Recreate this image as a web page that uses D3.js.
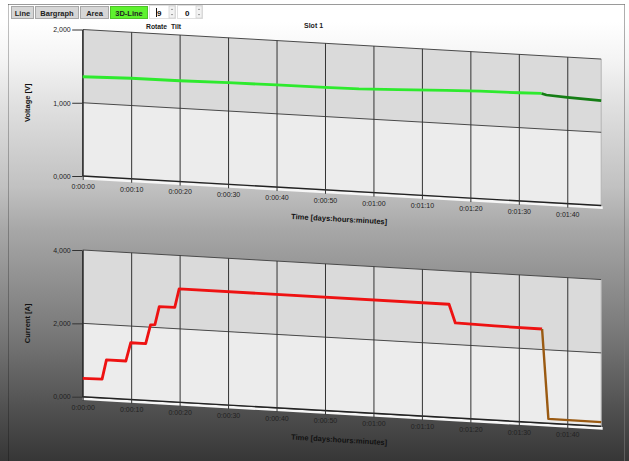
<!DOCTYPE html>
<html>
<head>
<meta charset="utf-8">
<script src="https://cdn.jsdelivr.net/npm/d3@7"></script>
<style>
  html, body { margin: 0; padding: 0; background: #fff; overflow: hidden; }
  svg { display: block; font-family: "Liberation Sans", Arial, sans-serif; }
</style>
</head>
<body>
<svg id="chart" width="629" height="461"></svg>
<script>
// ---- data ----
const timeMax = 107; // seconds shown on the time axis
const tickSeconds = [0, 10, 20, 30, 40, 50, 60, 70, 80, 90, 100];
const tickLabels = ["0:00:00", "0:00:10", "0:00:20", "0:00:30", "0:00:40", "0:00:50",
                    "0:01:00", "0:01:10", "0:01:20", "0:01:30", "0:01:40"];

const voltageTicks = [0, 1000, 2000];
const voltageTickLabels = ["0,000", "1,000", "2,000"];
const currentTicks = [0, 2000, 4000];
const currentTickLabels = ["0,000", "2,000", "4,000"];

// voltage [V] over time [s]
const voltageTime  = [0, 10, 20, 30, 40, 50, 57, 65, 75, 82, 90, 94.7];
const voltageValue = [1355, 1372, 1376, 1387, 1394, 1399, 1403, 1425, 1452, 1468, 1476, 1484];
const voltageTailTime  = [94.7, 95.7, 100, 107];
const voltageTailValue = [1484, 1466, 1451, 1432];

// current [A] over time [s]
const currentTime  = [0, 4, 4.9, 8.9, 9.9, 13, 14, 14.9, 15.8, 19, 19.9, 75.6, 76.9, 85, 94.8];
const currentValue = [500, 510, 1040, 1040, 1545, 1545, 2065, 2075, 2575, 2580, 3090, 3090, 2590, 2570, 2560];
const currentTailTime  = [94.8, 96.1, 107];
const currentTailValue = [2560, 120, 112];

const toolbarButtons = ["Line", "Bargraph", "Area", "3D-Line"];
const activeButton = "3D-Line";
const rotateValue = "9";
const tiltValue = "0";

// ---- drawing ----
const W = 629, H = 461;
const skew = 0.057;           // vertical drift per pixel of the rotated back wall
const svg = d3.select("#chart");
const defs = svg.append("defs");

const bg = defs.append("linearGradient").attr("id", "bg")
  .attr("gradientUnits", "userSpaceOnUse")
  .attr("x1", 0).attr("y1", 0).attr("x2", 0).attr("y2", H);
[[0, "#ffffff"], [22, "#ffffff"], [60, "#f4f4f4"], [103, "#e1e1e1"], [187, "#c1c1c1"],
 [230, "#a7a7a7"], [330, "#7a7a7a"], [427, "#474747"], [461, "#363636"]]
  .forEach(([y, c]) => bg.append("stop").attr("offset", y / H).attr("stop-color", c));

svg.append("rect").attr("width", W).attr("height", H).attr("fill", "#fff");
svg.append("rect").attr("x", 0).attr("y", 4).attr("width", W).attr("height", H - 4).attr("fill", "url(#bg)");
svg.append("line").attr("x1", 8).attr("x2", 625).attr("y1", 4.5).attr("y2", 4.5)
  .attr("stroke", "#9a9a9a");
svg.append("line").attr("x1", 8.5).attr("x2", 8.5).attr("y1", 4).attr("y2", H)
  .attr("stroke", "rgba(0,0,0,0.25)");
svg.append("line").attr("x1", 624.5).attr("x2", 624.5).attr("y1", 4).attr("y2", H)
  .attr("stroke", "rgba(120,120,120,0.6)");

// toolbar
const tb = svg.append("g");
const btnWidths = [23, 44, 29, 38];
let bx = 11;
toolbarButtons.forEach((label, i) => {
  const w = btnWidths[i];
  tb.append("rect").attr("x", bx + 0.5).attr("y", 6.5).attr("width", w - 1).attr("height", 12)
    .attr("fill", label === activeButton ? "#5ef22e" : "#d6d6d6")
    .attr("stroke", label === activeButton ? "#4cc426" : "#a8a8a8");
  tb.append("text").attr("x", bx + w / 2).attr("y", 15.5).attr("text-anchor", "middle")
    .attr("font-size", 7.5).attr("font-weight", "bold").attr("fill", "#222").text(label);
  bx += w + 1;
});
function spinner(x, w, value) {
  tb.append("rect").attr("x", x + 0.5).attr("y", 5.5).attr("width", w).attr("height", 13)
    .attr("fill", "#fff").attr("stroke", "#e0e0e0");
  tb.append("text").attr("x", x + 8).attr("y", 15.5).attr("font-size", 8)
    .attr("font-weight", "bold").attr("fill", "#111").text(value);
  const sx = x + w - 6;
  tb.append("rect").attr("x", sx).attr("y", 6).attr("width", 6).attr("height", 12)
    .attr("fill", "#f2f2f2").attr("stroke", "#c8c8c8").attr("stroke-width", 0.6);
  tb.append("path").attr("d", `M${sx + 1.8},10 L${sx + 3},8.6 L${sx + 4.2},10 Z`).attr("fill", "#888");
  tb.append("path").attr("d", `M${sx + 1.8},14 L${sx + 3},15.4 L${sx + 4.2},14 Z`).attr("fill", "#888");
}
spinner(149, 26, rotateValue);
tb.append("line").attr("x1", 156.5).attr("x2", 156.5).attr("y1", 8).attr("y2", 17).attr("stroke", "#111");
spinner(177, 25, tiltValue);

svg.append("text").attr("x", 146).attr("y", 29).attr("font-size", 6.8).attr("font-weight", "bold")
  .attr("fill", "#222").text("Rotate");
svg.append("text").attr("x", 171).attr("y", 29).attr("font-size", 6.8).attr("font-weight", "bold")
  .attr("fill", "#222").text("Tilt");
svg.append("text").attr("x", 304).attr("y", 27.5).attr("font-size", 7).attr("font-weight", "bold")
  .attr("fill", "#222").text("Slot 1");

function drawPanel(cfg) {
  const x = d3.scaleLinear().domain([0, timeMax]).range([82.7, 601.2]);
  const y = d3.scaleLinear().domain([0, cfg.yMax]).range(cfg.yRange);
  const x0 = x(0);
  const px = t => x(t);
  const py = (t, v) => y(v) + skew * (x(t) - x0);
  const g = svg.append("g");

  // back wall bands
  for (let i = 0; i < cfg.yTicks.length - 1; i++) {
    const a = cfg.yTicks[i], b = cfg.yTicks[i + 1];
    g.append("path")
      .attr("d", `M${px(0)},${py(0, a)}L${px(timeMax)},${py(timeMax, a)}L${px(timeMax)},${py(timeMax, b)}L${px(0)},${py(0, b)}Z`)
      .attr("fill", i % 2 === 0 ? "#ececec" : "#dadada");
  }
  // right edge of the wall
  g.append("line").attr("x1", px(timeMax)).attr("x2", px(timeMax))
    .attr("y1", py(timeMax, cfg.yMax)).attr("y2", py(timeMax, 0) + 3)
    .attr("stroke", "#b4b4b4").attr("stroke-width", 1);
  // floor edge
  g.append("path")
    .attr("d", `M${px(0)},${py(0, 0) + 0.8}L${px(timeMax) + 1.5},${py(timeMax, 0) + 0.8}L${px(timeMax) + 1.5},${py(timeMax, 0) + 3.4}L${px(0)},${py(0, 0) + 3.4}Z`)
    .attr("fill", "#f6f6f6");

  // horizontal grid lines
  cfg.yTicks.forEach(v => {
    g.append("line").attr("x1", px(0)).attr("x2", px(timeMax))
      .attr("y1", py(0, v)).attr("y2", py(timeMax, v))
      .attr("stroke", v === 0 ? "#222" : "#4a4a4a").attr("stroke-width", v === 0 ? 1.4 : 1);
  });

  // time axis with vertical grid lines, following the wall's drift
  const xAxis = g.append("g").attr("transform", `translate(0,${y(0)})`)
    .call(d3.axisBottom(x).tickValues(tickSeconds)
      .tickFormat((d, i) => tickLabels[i]).tickSize(4).tickPadding(4));
  xAxis.select(".domain").remove();
  xAxis.selectAll(".tick")
    .attr("transform", d => `translate(${x(d) + 0.5},${skew * (x(d) - x0)})`);
  xAxis.selectAll(".tick line").attr("stroke", "#333");
  xAxis.selectAll(".tick").append("line")
    .attr("y1", 0).attr("y2", -(cfg.yRange[0] - cfg.yRange[1]))
    .attr("stroke", "#333");
  xAxis.selectAll(".tick text").attr("font-size", 7).attr("fill", "#222")
    .attr("font-family", "'Liberation Sans', Arial, sans-serif");

  // value axis
  const yAxis = g.append("g").attr("transform", `translate(${x0 - 0.5},0)`)
    .call(d3.axisLeft(y).tickValues(cfg.yTicks)
      .tickFormat((d, i) => cfg.yLabels[i]).tickSizeInner(10).tickSizeOuter(0).tickPadding(1.5));
  yAxis.select(".domain").attr("stroke", "#222");
  yAxis.selectAll(".tick line").attr("stroke", "#333");
  yAxis.selectAll(".tick text").attr("font-size", 7).attr("fill", "#222")
    .attr("font-family", "'Liberation Sans', Arial, sans-serif");

  // series
  const line = d3.line().x(d => px(d[0])).y(d => py(d[0], d[1]));
  cfg.series.forEach(s => {
    g.append("path").datum(d3.zip(s.t, s.v)).attr("d", line)
      .attr("fill", "none").attr("stroke", s.color).attr("stroke-width", s.width)
      .attr("stroke-linejoin", "round").attr("stroke-linecap", "butt");
  });

  // titles
  g.append("text")
    .attr("transform", `translate(30,${(cfg.yRange[0] + cfg.yRange[1]) / 2}) rotate(-90)`)
    .attr("text-anchor", "middle").attr("font-size", 7.5).attr("font-weight", "bold")
    .attr("fill", "#111").text(cfg.yTitle);
  const tc = 52.9;
  const ang = Math.atan(skew) * 180 / Math.PI;
  g.append("text")
    .attr("transform", `translate(${px(tc)},${py(tc, 0) + 31}) rotate(${ang})`)
    .attr("text-anchor", "middle").attr("font-size", 7.5).attr("font-weight", "bold")
    .attr("fill", "#111").text("Time [days:hours:minutes]");
}

drawPanel({
  yMax: 2000, yRange: [176, 29.5], yTicks: voltageTicks, yLabels: voltageTickLabels,
  yTitle: "Voltage [V]",
  series: [
    { t: voltageTime, v: voltageValue, color: "#2eea2e", width: 2.8 },
    { t: voltageTailTime, v: voltageTailValue, color: "#157d15", width: 2.6 }
  ]
});
drawPanel({
  yMax: 4000, yRange: [396.7, 250], yTicks: currentTicks, yLabels: currentTickLabels,
  yTitle: "Current [A]",
  series: [
    { t: currentTime, v: currentValue, color: "#ee1212", width: 2.8 },
    { t: currentTailTime, v: currentTailValue, color: "#9a5a12", width: 2.4 }
  ]
});
</script>
</body>
</html>
